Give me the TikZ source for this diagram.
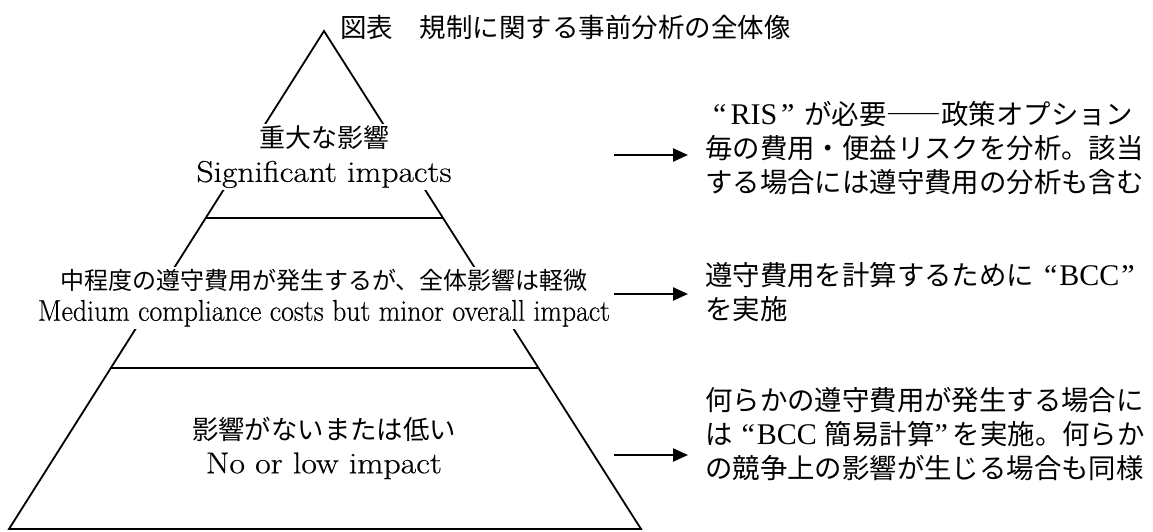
\documentclass[tikz,border=0pt]{standalone}
\usepackage{fontspec}
\usepackage{graphicx}
\newfontfamily\jpf{Noto Sans CJK JP}
\newfontfamily\qsf{Liberation Serif}
\newfontfamily\enf{Latin Modern Roman}[FakeBold=0.5]
\usetikzlibrary{arrows.meta,calc}
\newcommand\hsz[2]{\resizebox{#1}{\height}{#2}}
\newcommand\qt[1]{{\qsf\fontsize{30}{33}\selectfont #1}}
\begin{document}
\begin{tikzpicture}[x=1pt,y=-1pt,
  edge/.style={line width=1.8pt, line join=miter},
  tier/.style={fill=white, inner sep=2pt, align=center},
  note/.style={anchor=west, align=left, inner sep=0pt, font=\jpf\fontsize{27.4}{34}\selectfont},
  arr/.style={line width=2.4pt, -{Triangle[length=15pt,width=13pt]}},
  ttl/.style={anchor=west, inner sep=0pt, font=\jpf\fontsize{26.5}{30}\selectfont}
]
\useasboundingbox (0,0) rectangle (1153,531);
% pyramid
\coordinate (apex) at (324,31);
\coordinate (bl) at (9,529);
\coordinate (br) at (641,529);
\coordinate (d1l) at ($(apex)!0.3755!(bl)$);
\coordinate (d1r) at ($(apex)!0.3755!(br)$);
\coordinate (d2l) at ($(apex)!0.6767!(bl)$);
\coordinate (d2r) at ($(apex)!0.6767!(br)$);
\draw[edge] (bl) -- (apex) -- (br) -- cycle;
\draw[edge] (d1l) -- (d1r);
\draw[edge] (d2l) -- (d2r);
% title
\node[ttl] (title) at (340,27) {図表　規制に関する事前分析の全体像};
% tiers
\node[tier, font=\fontsize{25}{34}\selectfont] (t1) at (324,157)
  {{\jpf\fontsize{26}{34}\selectfont 重大な影響}\\\hsz{255pt}{\enf\fontsize{30}{34}\selectfont Significant impacts}};
\node[tier, font=\fontsize{24}{31}\selectfont] (t2) at (324,298)
  {{\jpf\fontsize{24}{31}\selectfont 中程度の遵守費用が発生するが、全体影響は軽微}\\\hsz{572pt}{\enf\fontsize{30}{31}\selectfont Medium compliance costs but minor overall impact}};
\node[tier, font=\fontsize{25}{34}\selectfont] (t3) at (324,448)
  {{\jpf\fontsize{26.4}{34}\selectfont 影響がないまたは低い}\\\hsz{236pt}{\enf\fontsize{30}{34}\selectfont No or low impact}};
% notes
\node[note] (n1) at (705,148) {\hspace*{8pt}\qt{“\hspace{4pt}RIS\hspace{4pt}”}\hspace{10pt}が必要――政策オプション\\毎の費用・便益リスクを分析。該当\\する場合には遵守費用の分析も含む};
\node[note] (n2) at (705,292) {遵守費用を計算するために\hspace{10pt}\qt{“\hspace{2pt}BCC\hspace{2pt}”}\\を実施};
\node[note] (n3) at (705,434) {何らかの遵守費用が発生する場合に\\は\hspace{9pt}\qt{“\hspace{2pt}BCC}\hspace{8pt}簡易計算\qt{”}\hspace{5pt}を実施。何らか\\の競争上の影響が生じる場合も同様};
% arrows
\coordinate (a1s) at (614,155); \coordinate (a1e) at (688,155);
\coordinate (a2s) at (614,294); \coordinate (a2e) at (688,294);
\coordinate (a3s) at (614,455); \coordinate (a3e) at (688,455);
\draw[arr] (a1s) -- (a1e);
\draw[arr] (a2s) -- (a2e);
\draw[arr] (a3s) -- (a3e);
\end{tikzpicture}
\end{document}
